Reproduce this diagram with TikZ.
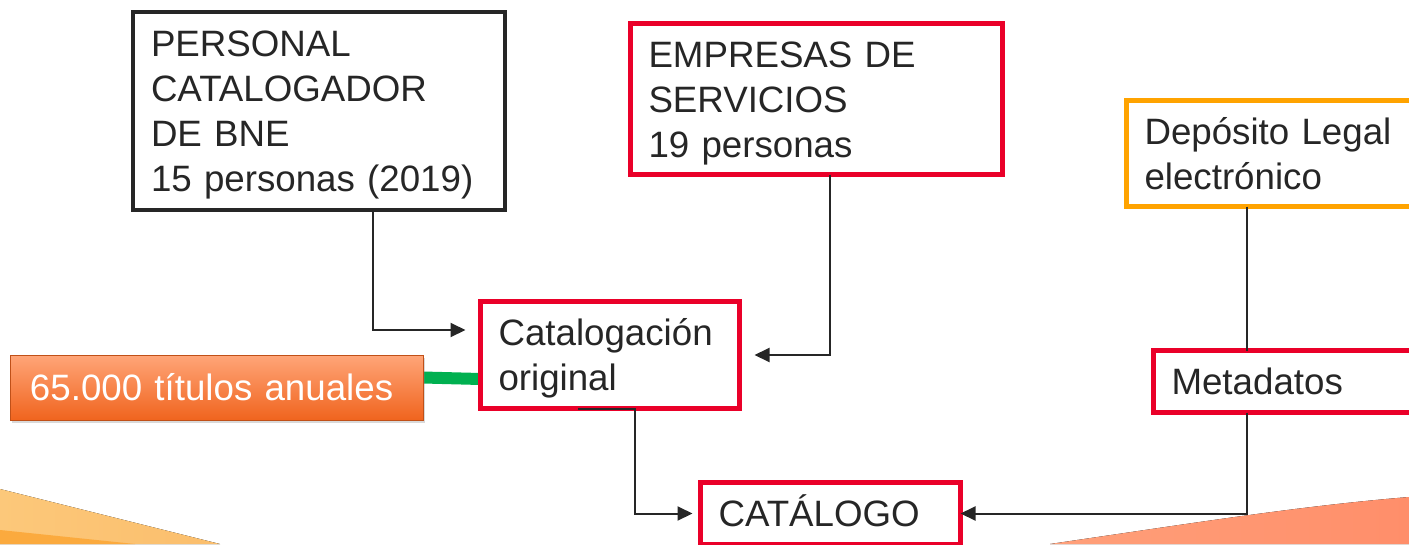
\documentclass[tikz,border=0pt]{standalone}
\usepackage{fontspec}
\setmainfont{Liberation Sans}
\usetikzlibrary{arrows.meta,backgrounds,shadows}
\definecolor{bneRed}{RGB}{234,0,41}
\definecolor{dlOrange}{RGB}{255,163,0}
\definecolor{darkText}{RGB}{38,38,38}
\definecolor{linkGreen}{RGB}{0,176,80}
\definecolor{titTop}{RGB}{255,165,120}
\definecolor{titBottom}{RGB}{240,100,30}
\definecolor{swooshLight}{RGB}{252,200,122}
\definecolor{swooshLightB}{RGB}{251,190,108}
\definecolor{swooshDark}{RGB}{251,170,62}
\definecolor{swooshRedA}{RGB}{255,160,122}
\definecolor{swooshRedB}{RGB}{255,142,106}
\newcommand{\linestrut}{\rule[-9pt]{0pt}{44pt}}
\tikzset{box node/.style={draw=darkText, line width=4.5pt, outer sep=0pt,
    inner xsep=18pt, inner ysep=0pt, anchor=north west, align=left,
    text=darkText, font=\fontsize{36.7}{45}\selectfont}}
\tikzset{red node/.style={box node, draw=bneRed}}
\tikzset{link edge/.style={draw=darkText, line width=2pt, -{Triangle[length=15pt,width=14pt]}}}

\begin{document}
\begin{tikzpicture}
      [x=1pt, y=-1pt]
      \useasboundingbox (0,0) rectangle (1409,544);
      \node [box node, text width=336pt, minimum height=198pt]              (pers) at ( 133,  12) {\linestrut PERSONAL\\CATALOGADOR\\DE BNE\\15 personas (2019)\linestrut};
      \node [red node, text width=336pt, minimum height=151pt]              (emp)  at ( 630.5, 23.5) {\linestrut EMPRESAS DE\\SERVICIOS\\19 personas\linestrut};
      \node [box node, draw=dlOrange, text width=336pt, minimum height=106pt] (dep) at (1126.5,100.5) {\linestrut Depósito Legal\\electrónico\linestrut};
      \node [red node, text width=223pt, minimum height=107pt]              (cat)  at ( 480.5,301.5) {\linestrut Catalogación\\original\linestrut};
      \node [red node, text width=223pt, minimum height=62pt]               (meta) at (1153.5,350.5) {\linestrut Metadatos};
      \node [red node, text width=224pt, minimum height=62pt]               (catl) at ( 700.5,482.5) {\linestrut CATÁLOGO};
      \node [anchor=north west, outer sep=0pt, inner xsep=20pt, inner ysep=0pt, text width=373pt, minimum height=65pt,
             top color=titTop, bottom color=titBottom, draw=titBottom!80!black, line width=0.8pt,
             drop shadow={opacity=0.3, shadow xshift=2pt, shadow yshift=-3pt},
             text=white, font=\fontsize{36.7}{45}\selectfont] (tit) at (10,355) {\linestrut 65.000 títulos anuales};

      \begin{scope}[on background layer]
        \fill [left color=swooshLight, right color=swooshLightB] (0,489) -- (220,544) -- (0,544) -- cycle;
        \fill [swooshDark] (0,530) -- (135,544) -- (0,544) -- cycle;
        \fill [left color=swooshRedA, right color=swooshRedB]
              (1050,544) .. controls (1200,522) and (1300,506) .. (1409,497) -- (1409,544) -- cycle;
        \draw [linkGreen, line width=12pt] ([yshift=10pt]tit.east) -- ([yshift=-24pt]cat.west);
      \end{scope}

      \draw [link edge, shorten >=15pt] ([xshift=54pt]pers.south) |- ([yshift=25pt]cat.west);
      \draw [link edge, shorten >=15pt] ([xshift=13.5pt]emp.south) |- (cat.east);
      \draw [link edge, shorten >=8pt]  ([xshift=-32pt]cat.south) -- ++(57,0) |- (catl.west);
      \draw [link edge, -]              ([xshift=120.5pt]dep.south west) -- ([xshift=93.5pt]meta.north west);
      \draw [link edge]                 ([xshift=93.5pt]meta.south west) |- (catl.east);
    \end{tikzpicture}
\end{document}
